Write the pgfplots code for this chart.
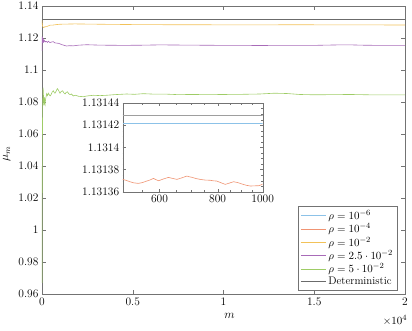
\documentclass[border=0pt]{standalone}
\usepackage{pgfplots}
\pgfplotsset{compat=1.18}
% pale versions of the MATLAB default colours
\definecolor{mblue}{rgb}{0.55,0.76,0.91}
\definecolor{morange}{rgb}{0.94,0.58,0.45}
\definecolor{myellow}{rgb}{0.95,0.76,0.35}
\definecolor{mpurple}{rgb}{0.66,0.42,0.72}
\definecolor{mgreen}{rgb}{0.62,0.80,0.40}
\definecolor{mgray}{rgb}{0.42,0.42,0.42}
\definecolor{mgraylight}{rgb}{0.62,0.62,0.62}
\begin{document}
\begin{tikzpicture}
\pgfplotsset{
    every tick label/.append style={font=\fontsize{11.5}{13}\selectfont},
    every axis label/.append style={font=\fontsize{11.5}{13}\selectfont},
}
\begin{axis}[
    name=main,
    at={(0,0)}, anchor=south west,
    scale only axis,
    width=363pt, height=288pt,
    xmin=0, xmax=20000,
    ymin=0.96, ymax=1.14,
    scaled x ticks=false,
    xtick={0,5000,10000,15000,20000},
    xticklabels={0,0.5,1,1.5,2},
    ytick={0.96,0.98,1,1.02,1.04,1.06,1.08,1.1,1.12,1.14},
    yticklabels={0.96,0.98,1,1.02,1.04,1.06,1.08,1.1,1.12,1.14},
    axis line style={black!55},
    tick style={black!55},
    xlabel={$m$}, ylabel={$\mu_m$},
    xlabel style={yshift=-1pt, xshift=6pt},
    ylabel style={yshift=1pt, xshift=-4pt},
    legend cell align=left,
    legend style={at={(0.978,0.014)}, anchor=south east, draw=black!55,
        font=\fontsize{11}{13}\selectfont, row sep=-1.2pt, inner xsep=2pt, inner ysep=1.5pt},
    legend image code/.code={\draw[#1] (0pt,0pt) -- (25pt,0pt);},
    every axis plot/.append style={line width=0.6pt},
]
% rho=1e-6 and rho=1e-4 lie under the deterministic line here (see inset)
\addlegendimage{mblue, line width=0.6pt}
\addlegendimage{morange, line width=0.6pt}
\addplot[myellow] table {
1 1.1310
10 1.1295
20 1.1280
40 1.1272
60 1.1268
100 1.1265
150 1.1270
257 1.1271
350 1.1276
440 1.1280
624 1.1281
800 1.1284
1000 1.1286
1360 1.1287
1800 1.1288
2500 1.1287
3200 1.1286
4000 1.1285
5000 1.1284
6900 1.1283
8700 1.1283
10000 1.1282
12000 1.1282
14000 1.1283
16000 1.1282
18000 1.1282
20000 1.1281
};
\addplot[mpurple] table {
1 1.112
8 1.121
15 1.117
25 1.1205
35 1.118
50 1.1195
65 1.117
80 1.1188
100 1.1178
130 1.1185
170 1.1175
220 1.1180
257 1.1177
300 1.1172
350 1.1180
440 1.1171
520 1.1175
624 1.1177
700 1.1170
800 1.1168
900 1.1167
1000 1.1163
1100 1.1158
1175 1.1156
1250 1.1153
1359 1.1150
1500 1.1152
1727 1.1151
2000 1.1155
2460 1.1158
3000 1.1156
3500 1.1155
4500 1.1154
5500 1.1155
6500 1.1157
7500 1.1156
8700 1.1155
10000 1.1154
11000 1.1154
12000 1.1153
13000 1.1154
14000 1.1154
15000 1.1154
16400 1.1157
17000 1.1157
17700 1.1155
18500 1.1154
20000 1.1154
};
\addplot[mgreen] table {
1 0.967
10 1.02
20 1.05
30 1.07
45 1.083
60 1.089
75 1.086
90 1.081
110 1.078
130 1.083
150 1.080
170 1.0785
200 1.082
230 1.0835
260 1.0852
300 1.084
350 1.0855
400 1.0845
450 1.0838
500 1.0846
560 1.0862
624 1.0870
680 1.0858
715 1.0855
780 1.0868
845 1.0883
900 1.0876
960 1.0862
992 1.0855
1060 1.0866
1140 1.0870
1200 1.0858
1270 1.0850
1330 1.0860
1400 1.0864
1470 1.0852
1543 1.0846
1620 1.0850
1727 1.0838
1850 1.0842
2000 1.0836
2276 1.0833
2500 1.0838
2826 1.0842
3200 1.0840
3560 1.0842
4000 1.0846
4660 1.0850
5100 1.0848
5580 1.0852
6200 1.0849
6870 1.0849
7500 1.0846
8200 1.0847
9250 1.0846
10000 1.0847
11000 1.0848
12000 1.0850
12800 1.0855
13500 1.0853
14200 1.0847
15000 1.0845
16000 1.0846
17000 1.0847
18000 1.0845
19000 1.0845
20000 1.0845
};
\addplot[mgray, line width=0.7pt] table {
1 1.131429
20000 1.131429
};
\legend{$\rho=10^{-6}$,$\rho=10^{-4}$,$\rho=10^{-2}$,$\rho=2.5\cdot10^{-2}$,$\rho=5\cdot10^{-2}$,Deterministic}
\end{axis}
\node[font=\fontsize{11}{13}\selectfont, inner sep=0pt] at ([xshift=-10pt,yshift=-26pt]main.south east) {$\times10^{4}$};
\begin{axis}[
    at={(80.7pt,102.3pt)}, anchor=south west,
    scale only axis,
    width=140pt, height=88.7pt,
    xmode=log,
    xmin=500, xmax=1000,
    ymin=-4, ymax=4,
    xtick={600,800,1000},
    xticklabels={600,800,1000},
    minor xtick={550,650,700,750,850,900,950},
    ytick={-4,-2,0,2,4},
    yticklabels={1.13136,1.13138,1.1314,1.13142,1.13144},
    minor ytick={-3.5,-3,-2.5,-1.5,-1,-0.5,0.5,1,1.5,2.5,3,3.5},
    axis background/.style={fill=white},
    axis line style={black!55},
    tick style={black!55},
    major tick length=3pt, minor tick length=1.5pt,
    every axis plot/.append style={line width=0.6pt},
]
\addplot[mblue] table {
500 2.2
1000 2.2
};
\addplot[morange] table {
500 -2.89
509 -2.98
518 -3.10
528 -3.20
540 -3.25
551 -3.18
563 -3.04
572 -2.95
582 -2.80
590 -2.92
597 -3.01
612 -2.85
627 -2.71
640 -2.80
654 -2.89
670 -2.75
687 -2.59
696 -2.66
704 -2.70
720 -2.82
734 -2.89
752 -2.95
771 -2.97
784 -3.02
797 -3.04
814 -3.20
831 -3.34
848 -3.22
866 -3.10
884 -3.18
903 -3.31
922 -3.42
941 -3.49
960 -3.47
980 -3.46
990 -3.40
1000 -3.31
};
\addplot[mgraylight] table {
500 2.9
1000 2.9
};
\end{axis}
\pgfresetboundingbox
\path[use as bounding box] (-42pt,-36pt) rectangle (370pt,294pt);
\end{tikzpicture}
\end{document}
